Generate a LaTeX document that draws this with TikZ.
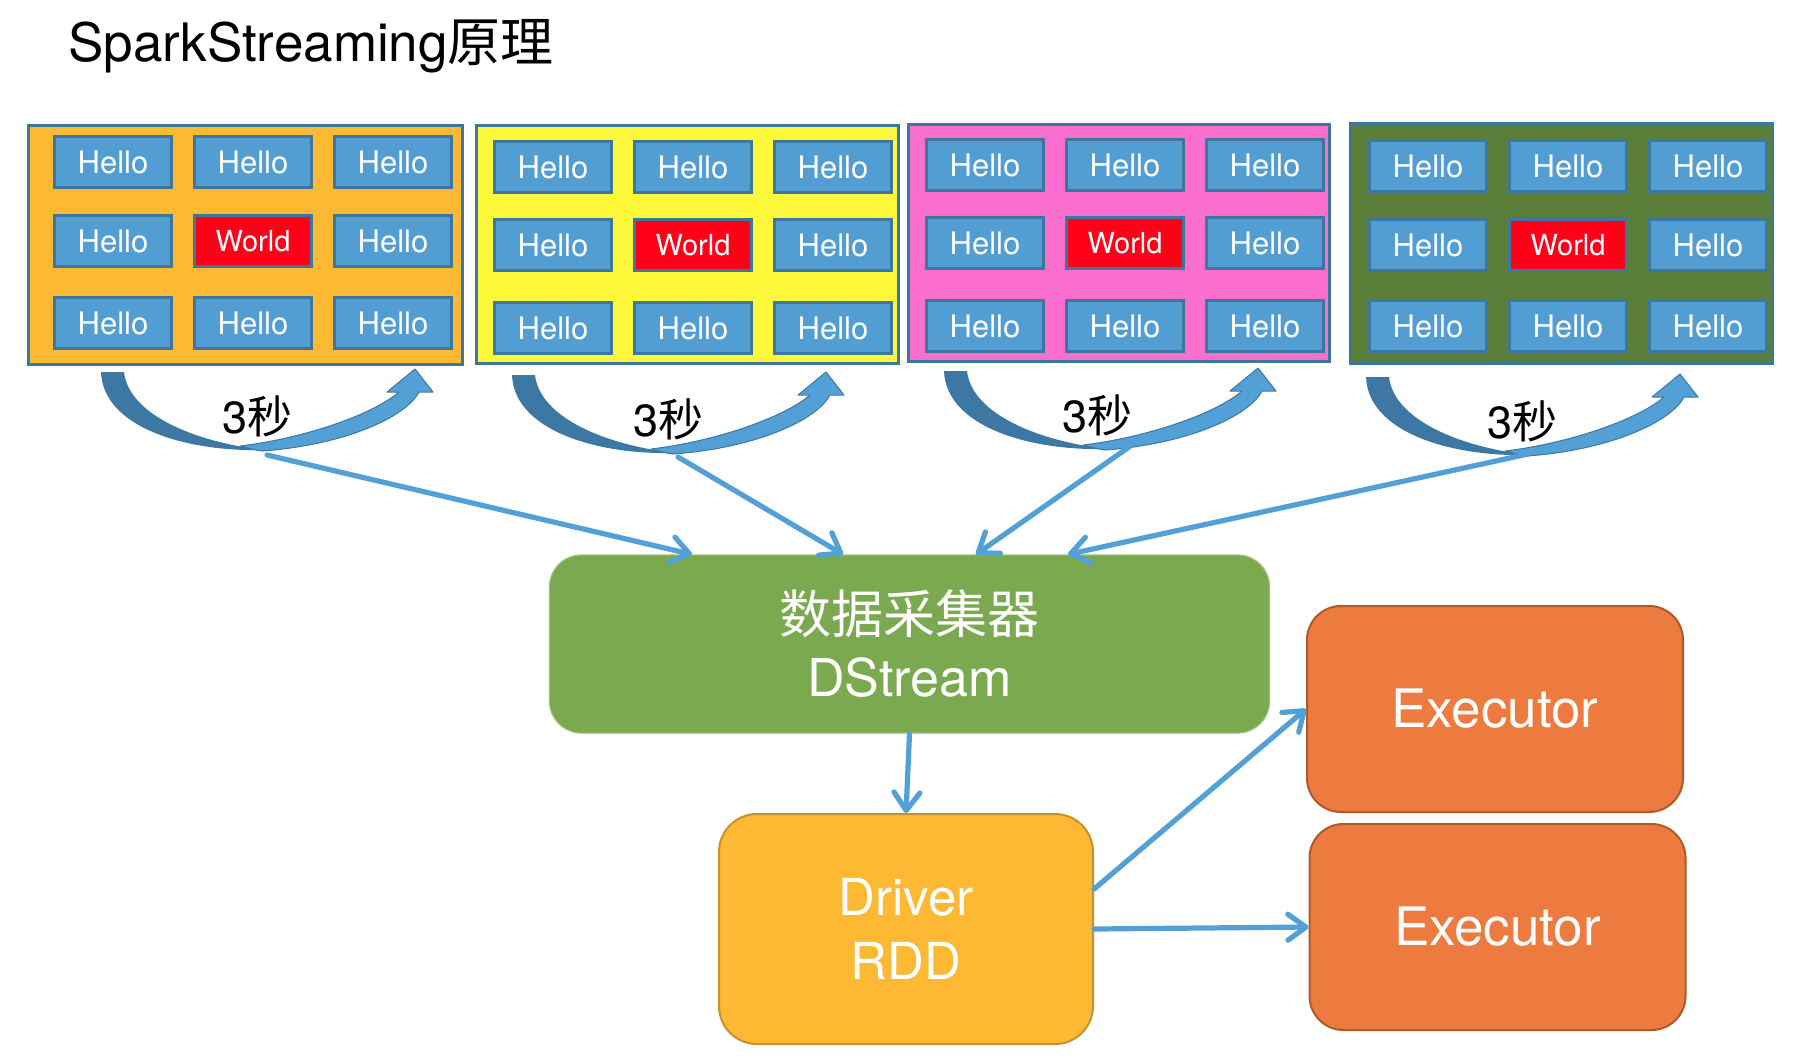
\documentclass[tikz,border=0pt]{standalone}
\usepackage{fontspec}
\setmainfont{TeX Gyre Heros}
\newfontfamily\cjk{Noto Sans CJK SC}
\usetikzlibrary{arrows.meta,calc}
\definecolor{boxblue}{HTML}{529ED3}
\definecolor{boxedge}{HTML}{3C77A0}
\definecolor{worldred}{HTML}{FF0019}
\definecolor{pnlorange}{HTML}{FDB933}
\definecolor{pnlyellow}{HTML}{FFF93C}
\definecolor{pnlpink}{HTML}{FA6ECE}
\definecolor{pnlgreen}{HTML}{5B7E3A}
\definecolor{linkblue}{HTML}{52A0D6}
\definecolor{darkband}{HTML}{3D78A4}
\definecolor{dsgreen}{HTML}{7AA94F}
\definecolor{drvfill}{HTML}{FDB933}
\definecolor{drvedge}{HTML}{C8902A}
\definecolor{exfill}{HTML}{ED7B40}
\definecolor{exedge}{HTML}{AE5A28}
\tikzset{
  pics/curvarrow/.style={code={
    \fill[darkband] (101,372) .. controls (103,427) and (185,452) .. (264,450)
      .. controls (195,442) and (129,415) .. (124,372) -- cycle;
    \filldraw[fill=linkblue,draw=darkband,line width=0.5pt,line join=round]
      (240,446) .. controls (300,439) and (371,416) .. (399,392)
      -- (387,392) -- (415,369) -- (433,392) -- (419,392)
      .. controls (406,417) and (345,445) .. (262,451)
      .. controls (255,450) and (247,448) .. (240,446) -- cycle;
  }}
}
\begin{document}
\begin{tikzpicture}[x=0.5pt,y=-0.5pt,
  hello/.style={draw=boxedge,line width=1.4pt,fill=boxblue,minimum width=58.6pt,
    minimum height=25.6pt,inner sep=0pt,text=white,font=\fontsize{15.5}{18}\selectfont},
  world/.style={hello,fill=worldred,font=\fontsize{14.5}{17}\selectfont},
  panel/.style={draw=boxedge,line width=1.4pt,inner sep=0pt},
  link/.style={draw=linkblue,line width=2.6pt,line cap=round,
    -{Straight Barb[length=9pt,width=13pt,round]}},
  secs/.style={anchor=base,font=\fontsize{22.5}{26}\selectfont},
]
\useasboundingbox (0,0) rectangle (1813,1057);

% title
\node[anchor=base west,inner sep=0pt,font=\fontsize{26.5}{30}\selectfont] (title) at (68,61)
  {SparkStreaming{\cjk 原理}};

% panels
\node[panel,fill=pnlorange,minimum width=217.1pt,minimum height=119.6pt] (P1) at (245.5,245) {};
\node[panel,fill=pnlyellow,minimum width=211.1pt,minimum height=119.1pt] (P2) at (687.5,244.5) {};
\node[panel,fill=pnlpink,minimum width=210.6pt,minimum height=118.6pt] (P3) at (1119,243) {};
\node[panel,fill=pnlgreen,minimum width=211.1pt,minimum height=120.1pt] (P4) at (1561.5,243.5) {};

\foreach \p/\xa/\xb/\xc/\ya/\yb/\yc in {
   1/53/193/333/135/214/296,
   2/493/633/773/140/218/301,
   3/925/1065/1205/138/216/299,
   4/1368/1508/1648/139/218/299}{
  \foreach \c/\x in {1/\xa,2/\xb,3/\xc}{
    \foreach \r/\y in {1/\ya,2/\yb,3/\yc}{
      \ifnum\r\c=22
        \node[world] (B\p-\r-\c) at (\x+60,\y+27) {World};
      \else
        \node[hello] (B\p-\r-\c) at (\x+60,\y+27) {Hello};
      \fi
    }
  }
}

% curved 3-second arrows
\pic at (0,0) {curvarrow};
\pic at (411,3) {curvarrow};
\pic at (843,-1) {curvarrow};
\pic at (1265,5) {curvarrow};

\node[secs] (s1) at (257.5,433) {3{\cjk 秒}};
\node[secs] (s2) at (668.5,436) {3{\cjk 秒}};
\node[secs] (s3) at (1097,432) {3{\cjk 秒}};
\node[secs] (s4) at (1522.5,438) {3{\cjk 秒}};

% main boxes
\node[draw=dsgreen!75!white,line width=0.6pt,fill=dsgreen,rounded corners=16pt,
  minimum width=360pt,minimum height=89pt,text=white,align=center,
  font=\fontsize{26}{31.5}\selectfont] (ds) at (909.5,644)
  {{\cjk 数据采集器}\\DStream};

\node[draw=drvedge,line width=1pt,fill=drvfill,rounded corners=19pt,
  minimum width=187pt,minimum height=115pt,text=white,align=center,
  font=\fontsize{25.5}{32}\selectfont] (drv) at (906,929) {Driver\\RDD};

\node[draw=exedge,line width=1pt,fill=exfill,rounded corners=17pt,
  minimum width=188pt,minimum height=103pt,text=white,
  font=\fontsize{26.5}{30}\selectfont] (ex1) at (1495,709) {Executor};
\node[draw=exedge,line width=1pt,fill=exfill,rounded corners=17pt,
  minimum width=188pt,minimum height=103pt,text=white,
  font=\fontsize{26.5}{30}\selectfont] (ex2) at (1497.5,927) {Executor};

% connectors
\coordinate (b1) at (267,455);
\coordinate (b2) at (678,457);
\coordinate (b3) at (1129,447);
\coordinate (b4) at (1528,454);
\coordinate (t1) at (692,555);
\coordinate (t2) at (843,555);
\coordinate (t3) at (976,555);
\coordinate (t4) at (1068,555);
\draw[link] (b1) -- (t1 |- ds.north);
\draw[link] (b2) -- (t2 |- ds.north);
\draw[link] (b3) -- (t3 |- ds.north);
\draw[link] (b4) -- (t4 |- ds.north);
\draw[link] (ds.south) -- (drv.north);
\draw[link] (drv.12) -- (ex1.west);
\draw[link] (drv.east) -- (ex2.west);
\end{tikzpicture}
\end{document}
